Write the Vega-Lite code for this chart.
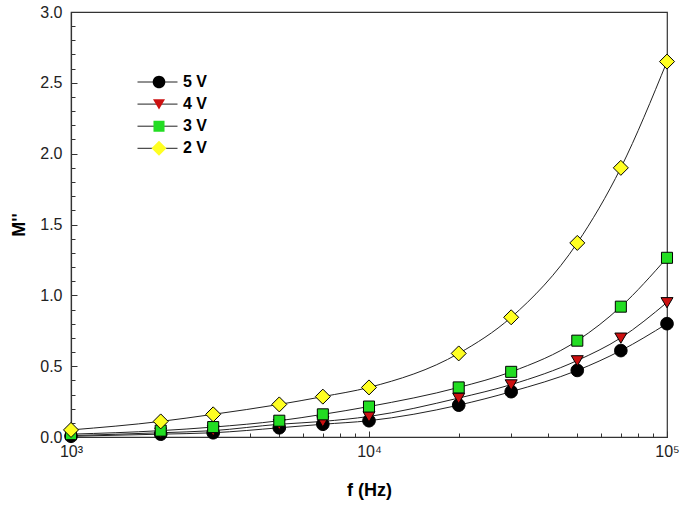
{
  "$schema": "https://vega.github.io/schema/vega-lite/v6.json",
  "width": 596,
  "height": 425,
  "autosize": {"type": "none"},
  "padding": {"left": 71, "top": 12, "right": 18, "bottom": 70},
  "config": {
    "view": {"stroke": "#333", "strokeWidth": 1.2},
    "font": "Liberation Sans",
    "axis": {"domainColor": "#333", "domainWidth": 1.2, "tickColor": "#333", "tickWidth": 1, "grid": false, "labelColor": "#222", "labelFontSize": 16, "titleColor": "black", "titleFontSize": 18, "titleFontWeight": "bold", "titleFont": "Liberation Sans", "labelFont": "Liberation Sans"}
  },
  "data": {
    "values": [
      {"f": 1000, "V": "5 V", "M": 0.005}, {"f": 2000, "V": "5 V", "M": 0.02}, {"f": 3000, "V": "5 V", "M": 0.03}, {"f": 5000, "V": "5 V", "M": 0.065}, {"f": 7000, "V": "5 V", "M": 0.09}, {"f": 10000, "V": "5 V", "M": 0.115}, {"f": 20000, "V": "5 V", "M": 0.225}, {"f": 30000, "V": "5 V", "M": 0.32}, {"f": 50000, "V": "5 V", "M": 0.47}, {"f": 70000, "V": "5 V", "M": 0.61}, {"f": 100000, "V": "5 V", "M": 0.8},
      {"f": 1000, "V": "4 V", "M": 0.01}, {"f": 2000, "V": "4 V", "M": 0.03}, {"f": 3000, "V": "4 V", "M": 0.045}, {"f": 5000, "V": "4 V", "M": 0.09}, {"f": 7000, "V": "4 V", "M": 0.11}, {"f": 10000, "V": "4 V", "M": 0.145}, {"f": 20000, "V": "4 V", "M": 0.275}, {"f": 30000, "V": "4 V", "M": 0.37}, {"f": 50000, "V": "4 V", "M": 0.54}, {"f": 70000, "V": "4 V", "M": 0.7}, {"f": 100000, "V": "4 V", "M": 0.95},
      {"f": 1000, "V": "3 V", "M": 0.02}, {"f": 2000, "V": "3 V", "M": 0.045}, {"f": 3000, "V": "3 V", "M": 0.07}, {"f": 5000, "V": "3 V", "M": 0.115}, {"f": 7000, "V": "3 V", "M": 0.16}, {"f": 10000, "V": "3 V", "M": 0.215}, {"f": 20000, "V": "3 V", "M": 0.35}, {"f": 30000, "V": "3 V", "M": 0.46}, {"f": 50000, "V": "3 V", "M": 0.68}, {"f": 70000, "V": "3 V", "M": 0.92}, {"f": 100000, "V": "3 V", "M": 1.265},
      {"f": 1000, "V": "2 V", "M": 0.05}, {"f": 2000, "V": "2 V", "M": 0.11}, {"f": 3000, "V": "2 V", "M": 0.16}, {"f": 5000, "V": "2 V", "M": 0.23}, {"f": 7000, "V": "2 V", "M": 0.285}, {"f": 10000, "V": "2 V", "M": 0.35}, {"f": 20000, "V": "2 V", "M": 0.59}, {"f": 30000, "V": "2 V", "M": 0.845}, {"f": 50000, "V": "2 V", "M": 1.37}, {"f": 70000, "V": "2 V", "M": 1.9}, {"f": 100000, "V": "2 V", "M": 2.65}
    ]
  },
  "resolve": {"axis": {"x": "independent", "y": "independent"}},
  "layer": [
    {
      "mark": {"type": "line", "interpolate": "monotone", "strokeWidth": 1},
      "encoding": {
        "x": {"field": "f", "type": "quantitative", "scale": {"type": "log", "domain": [1000, 100000], "nice": false}, "axis": {"orient": "bottom", "title": "f (Hz)", "values": [1000, 10000, 100000], "tickSize": -6, "labelPadding": 12, "titlePadding": 22, "labelFlush": false, "labelFontSize": 16, "labelExpr": "datum.value == 1000 ? '10³' : datum.value == 10000 ? '10⁴' : '10⁵'"}},
        "y": {"field": "M", "type": "quantitative", "scale": {"domain": [0, 3], "nice": false, "zero": false}, "axis": {"orient": "left", "title": "M''", "values": [0, 0.5, 1, 1.5, 2, 2.5, 3], "format": ".1f", "tickSize": -6, "labelPadding": 15, "titlePadding": 11}},
        "stroke": {"field": "V", "type": "nominal", "sort": "descending", "scale": {"range": ["#222222", "#222222", "#222222", "#222222"]},
          "legend": {"orient": "none", "legendX": 66, "legendY": 62.5, "title": null, "padding": 0, "zindex": 0, "symbolType": "stroke", "symbolSize": 1600, "symbolStrokeWidth": 1, "symbolStrokeColor": "#222222", "clipHeight": 15, "rowPadding": 5.1, "labelOpacity": 0, "labelFontSize": 16, "labelFontWeight": "bold"}
        }
      }
    },
    {
      "mark": {"type": "point", "filled": true, "stroke": "black", "strokeWidth": 1, "size": 144, "opacity": 1},
      "encoding": {
        "x": {"field": "f", "type": "quantitative", "scale": {"type": "log", "domain": [1000, 100000], "nice": false}, "axis": {"orient": "bottom", "title": null, "labels": false, "domain": false, "tickSize": -4, "values": [2000, 3000, 4000, 5000, 6000, 7000, 8000, 9000, 20000, 30000, 40000, 50000, 60000, 70000, 80000, 90000]}},
        "y": {"field": "M", "type": "quantitative", "scale": {"domain": [0, 3], "nice": false, "zero": false}, "axis": {"orient": "left", "title": null, "labels": false, "domain": false, "tickSize": -4, "values": [0.1, 0.2, 0.3, 0.4, 0.6, 0.7, 0.8, 0.9, 1.1, 1.2, 1.3, 1.4, 1.6, 1.7, 1.8, 1.9, 2.1, 2.2, 2.3, 2.4, 2.6, 2.7, 2.8, 2.9]}},
        "shape": {"field": "V", "type": "nominal", "scale": {"domain": ["5 V", "4 V", "3 V", "2 V"], "range": ["M-1.05,0A1.05,1.05 0 1,0 1.05,0A1.05,1.05 0 1,0 -1.05,0Z", "M-1,-0.8H1L0,0.9Z", "M-0.92,-0.92H0.92V0.92H-0.92Z", "M-1.25,0L0,-1.25L1.25,0L0,1.25Z"]},
          "legend": {"orient": "none", "legendX": 80, "legendY": 62.5, "title": null, "padding": 0, "zindex": 1, "labelFont": "Liberation Sans", "labelFontSize": 16, "labelFontWeight": "bold", "labelColor": "black", "symbolSize": 144, "symbolStrokeColor": "black", "symbolStrokeWidth": 1, "symbolOpacity": 1, "labelOffset": 16, "clipHeight": 15, "rowPadding": 5.1}
        },
        "fill": {"field": "V", "type": "nominal", "scale": {"domain": ["5 V", "4 V", "3 V", "2 V"], "range": ["#000000", "#cc1111", "#22dd22", "#ffff22"]},
          "legend": {"orient": "none", "legendX": 80, "legendY": 62.5, "title": null, "padding": 0, "zindex": 1, "labelFont": "Liberation Sans", "labelFontSize": 16, "labelFontWeight": "bold", "labelColor": "black", "symbolSize": 144, "symbolStrokeColor": "black", "symbolStrokeWidth": 1, "symbolOpacity": 1, "labelOffset": 16, "clipHeight": 15, "rowPadding": 5.1}
        }
      }
    }
  ]
}
